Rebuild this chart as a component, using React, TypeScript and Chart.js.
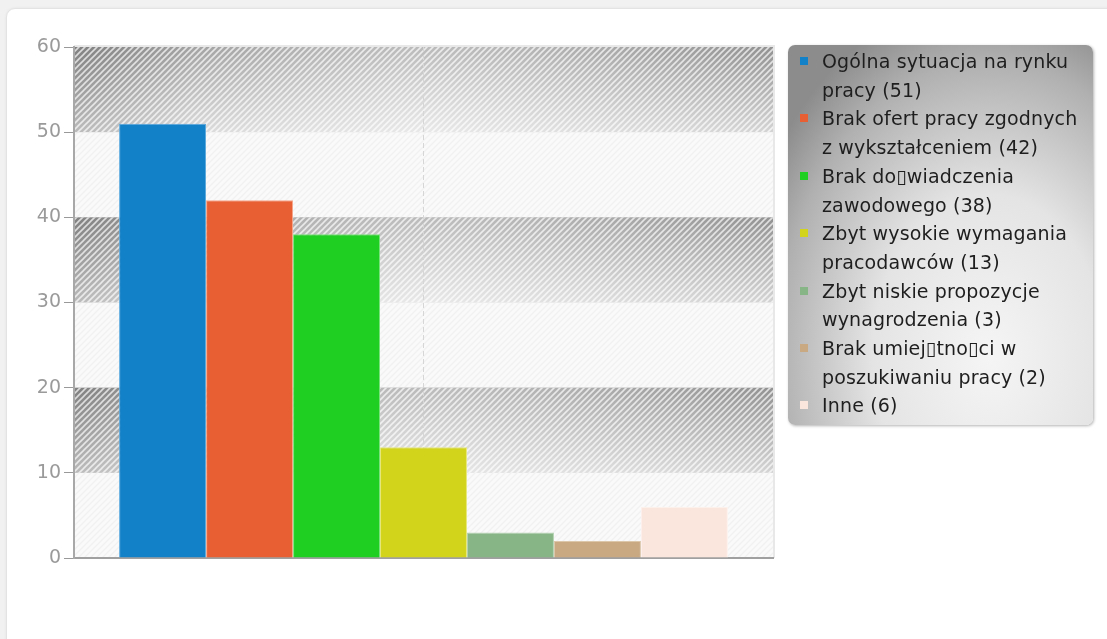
import React, { useEffect, useRef } from "react";
import { Chart, registerables } from "chart.js";
Chart.register(...registerables);

const categories = [
  "Ogólna sytuacja na rynku\npracy",
  "Brak ofert pracy zgodnych\nz wykształceniem",
  "Brak do▯wiadczenia\nzawodowego",
  "Zbyt wysokie wymagania\npracodawców",
  "Zbyt niskie propozycje\nwynagrodzenia",
  "Brak umiej▯tno▯ci w\nposzukiwaniu pracy",
  "Inne",
];
const values = [51, 42, 38, 13, 3, 2, 6];
const colors = ["#1281c8", "#e85f33", "#1fcf22", "#d2d41c", "#88b585", "#c8a982", "#fbe6de"];
const borderColors = ["#5aa8de", "#f4a58a", "#7ae27c", "#e6e77a", "#b4d2b2", "#dcc7ab", "#fdf1ec"];
const yMin = 0;
const yMax = 60;
const yStep = 10;
const bandRanges = [
  [50, 60],
  [30, 40],
  [10, 20],
];

function makePattern(color: string, lw: number) {
  const c = document.createElement("canvas");
  c.width = 6;
  c.height = 6;
  const g = c.getContext("2d")!;
  g.strokeStyle = color;
  g.lineWidth = lw;
  g.beginPath();
  g.moveTo(-1, 7);
  g.lineTo(7, -1);
  g.moveTo(-1, 1);
  g.lineTo(1, -1);
  g.moveTo(5, 7);
  g.lineTo(7, 5);
  g.stroke();
  return c;
}

const bandsPlugin = {
  id: "bands",
  beforeDraw(chart: any) {
    const { ctx, chartArea: a, scales } = chart;
    const y = scales.y;
    const darkPat = ctx.createPattern(makePattern("rgba(255,255,255,0.7)", 1.6), "repeat");
    const lightPat = ctx.createPattern(makePattern("rgba(0,0,0,0.035)", 1.4), "repeat");
    ctx.save();
    ctx.fillStyle = "#fafafa";
    ctx.fillRect(a.left, a.top, a.width, a.height);
    ctx.fillStyle = lightPat;
    ctx.fillRect(a.left, a.top, a.width, a.height);
    for (const [lo, hi] of bandRanges) {
      const top = y.getPixelForValue(hi);
      const bottom = y.getPixelForValue(lo);
      const h = bottom - top;
      const g = ctx.createLinearGradient(0, top, 0, bottom);
      g.addColorStop(0, "#8e8e8e");
      g.addColorStop(1, "#d2d2d2");
      ctx.fillStyle = g;
      ctx.fillRect(a.left, top, a.width, h);
      const cx = a.left + a.width * 0.5;
      const r = ctx.createRadialGradient(cx, bottom, 0, cx, bottom, a.width * 0.55);
      r.addColorStop(0, "rgba(255,255,255,0.5)");
      r.addColorStop(1, "rgba(255,255,255,0)");
      ctx.fillStyle = r;
      ctx.fillRect(a.left, top, a.width, h);
      const lg = ctx.createLinearGradient(a.left, 0, a.left + 120, 0);
      lg.addColorStop(0, "rgba(0,0,0,0.12)");
      lg.addColorStop(1, "rgba(0,0,0,0)");
      ctx.fillStyle = lg;
      ctx.fillRect(a.left, top, 120, h);
      ctx.fillStyle = darkPat;
      ctx.fillRect(a.left, top, a.width, h);
    }
    ctx.strokeStyle = "#e8e8e8";
    ctx.lineWidth = 2;
    ctx.beginPath();
    ctx.moveTo(a.left, a.top - 1);
    ctx.lineTo(a.right + 1, a.top - 1);
    ctx.lineTo(a.right + 1, a.bottom);
    ctx.stroke();
    ctx.restore();
  },
};

export default function App() {
  const ref = useRef<HTMLCanvasElement>(null);
  useEffect(() => {
    const chart = new Chart(ref.current!, {
      type: "bar",
      data: {
        labels: [""],
        datasets: values.map((v, i) => ({
          label: categories[i],
          data: [v],
          backgroundColor: colors[i],
          borderColor: borderColors[i],
          borderWidth: 1,
          categoryPercentage: 0.871,
          barPercentage: 1,
        })),
      },
      options: {
        animation: false,
        responsive: false,
        devicePixelRatio: 1,
        layout: { padding: { left: 0, top: 47, right: 334, bottom: 81 } },
        plugins: { legend: { display: false }, tooltip: { enabled: false } },
        scales: {
          x: {
            afterFit: (s: any) => {
              s.height = 0;
            },
            ticks: { display: false },
            grid: { offset: false, drawTicks: false, color: "#d6d6d6", lineWidth: 1 },
            border: { color: "#a0a0a0", width: 2, dash: [5, 3] },
          },
          y: {
            min: yMin,
            max: yMax,
            afterFit: (s: any) => {
              s.width = 74;
            },
            ticks: {
              stepSize: yStep,
              color: "#9a9a9a",
              padding: 3,
              font: { family: "'DejaVu Sans'", size: 19 },
            },
            grid: { drawOnChartArea: false, drawTicks: true, tickLength: 10, color: "#999" },
            border: { color: "#a8a8a8", width: 2 },
          },
        },
      },
      plugins: [bandsPlugin],
    });
    return () => chart.destroy();
  }, []);

  return (
    <div style={{ position: "fixed", left: 0, top: 0, width: 1107, height: 639, background: "#f1f1f1", overflow: "hidden" }}>
      <div
        style={{
          position: "absolute",
          left: 6,
          top: 8,
          width: 1120,
          height: 650,
          background: "#fff",
          borderRadius: 9,
          border: "1px solid #e3e3e3",
          boxShadow: "0 0 3px rgba(0,0,0,0.06)",
        }}
      />
      <canvas ref={ref} width={1107} height={639} style={{ position: "absolute", left: 0, top: 0 }} />
      <div
        style={{
          position: "absolute",
          left: 788,
          top: 45,
          width: 305,
          height: 380,
          boxSizing: "border-box",
          borderRadius: 7,
          background: "radial-gradient(ellipse 85% 95% at 66% 82%, #f5f5f5 0%, #e4e4e4 45%, #b0b0b0 82%, #8c8c8c 100%)",
          boxShadow: "1px 1px 3px rgba(0,0,0,0.3)",
          paddingTop: 2,
          fontFamily: "'DejaVu Sans'",
          fontSize: 19,
          letterSpacing: 0.15,
          lineHeight: "28.7px",
          color: "#1e1e1e",
        }}
      >
        {categories.map((c, i) => (
          <div key={i} style={{ position: "relative", paddingLeft: 34, whiteSpace: "pre" }}>
            <span
              style={{
                position: "absolute",
                left: 12,
                top: 10,
                width: 8,
                height: 8,
                background: colors[i],
              }}
            />
            {`${c} (${values[i]})`}
          </div>
        ))}
      </div>
    </div>
  );
}
